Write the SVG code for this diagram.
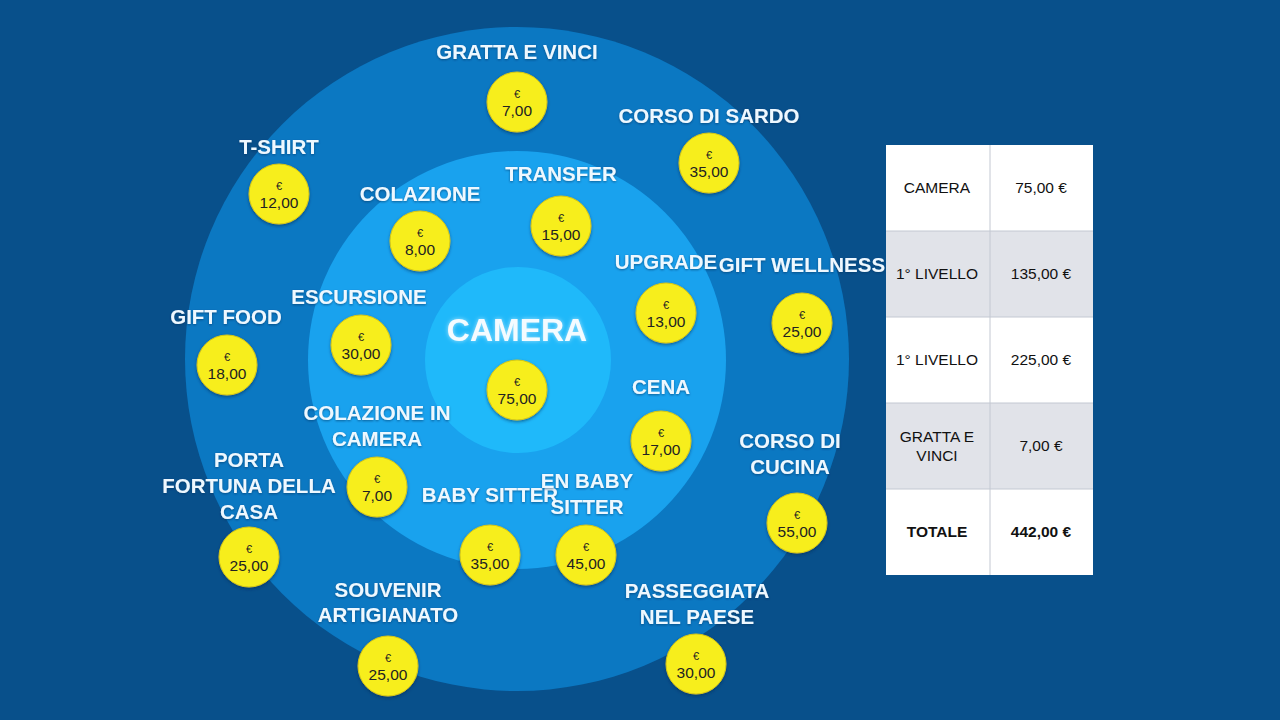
<svg xmlns="http://www.w3.org/2000/svg" width="1280" height="720" viewBox="0 0 1280 720">
<defs>
<filter id="sh" x="-20%" y="-20%" width="140%" height="140%">
<feDropShadow dx="0" dy="1" stdDeviation="1.2" flood-color="#003060" flood-opacity="0.6"/>
</filter>
<filter id="cs" x="-20%" y="-20%" width="140%" height="140%">
<feDropShadow dx="0" dy="1.5" stdDeviation="1.5" flood-color="#00284f" flood-opacity="0.55"/>
</filter>
<filter id="glow" x="-20%" y="-30%" width="140%" height="160%">
<feDropShadow dx="0" dy="0" stdDeviation="2" flood-color="#ffffff" flood-opacity="0.6"/>
</filter>
</defs>
<style>
.lbl{font-family:"Liberation Sans",Arial,sans-serif;font-weight:bold;font-size:20.5px;fill:#eef8ff;text-anchor:middle;filter:url(#sh)}
.coin{fill:#f7ee1c;stroke:#d8c810;stroke-width:1;filter:url(#cs)}
.eu{font-family:"Liberation Sans",Arial,sans-serif;font-size:11px;fill:#222;text-anchor:middle}
.val{font-family:"Liberation Sans",Arial,sans-serif;font-size:15.5px;fill:#222;text-anchor:middle}
.tt{font-family:"Liberation Sans",Arial,sans-serif;font-size:15.5px;fill:#111;text-anchor:middle}
.tb{font-weight:bold}
.grid{stroke:#c3c8d2;stroke-width:1}
</style>
<rect width="1280" height="720" fill="#08508b"/>
<g id="rings">
<circle cx="517" cy="359" r="332" fill="#0b78c2"/>
<circle cx="517" cy="360" r="209" fill="#19a2ee"/>
<circle cx="518" cy="360" r="93" fill="#1fb9fa"/>
</g>
<g id="connectors"></g>
<g id="gratta"><text class="lbl" x="517" y="59">GRATTA E VINCI</text><circle class="coin" cx="517" cy="102" r="30"/><text class="eu" x="517" y="98">€</text><text class="val" x="517" y="116">7,00</text></g>
<g id="sardo"><text class="lbl" x="709" y="123">CORSO DI SARDO</text><circle class="coin" cx="709" cy="163" r="30"/><text class="eu" x="709" y="159">€</text><text class="val" x="709" y="177">35,00</text></g>
<g id="tshirt"><text class="lbl" x="279" y="154">T-SHIRT</text><circle class="coin" cx="279" cy="194" r="30"/><text class="eu" x="279" y="190">€</text><text class="val" x="279" y="208">12,00</text></g>
<g id="colazione"><text class="lbl" x="420" y="201">COLAZIONE</text><circle class="coin" cx="420" cy="241" r="30"/><text class="eu" x="420" y="237">€</text><text class="val" x="420" y="255">8,00</text></g>
<g id="transfer"><text class="lbl" x="561" y="181">TRANSFER</text><circle class="coin" cx="561" cy="226" r="30"/><text class="eu" x="561" y="222">€</text><text class="val" x="561" y="240">15,00</text></g>
<g id="upgrade"><text class="lbl" x="666" y="269">UPGRADE</text><circle class="coin" cx="666" cy="313" r="30"/><text class="eu" x="666" y="309">€</text><text class="val" x="666" y="327">13,00</text></g>
<g id="wellness"><text class="lbl" x="802" y="272">GIFT WELLNESS</text><circle class="coin" cx="802" cy="323" r="30"/><text class="eu" x="802" y="319">€</text><text class="val" x="802" y="337">25,00</text></g>
<g id="escursione"><text class="lbl" x="359" y="304">ESCURSIONE</text><circle class="coin" cx="361" cy="345" r="30"/><text class="eu" x="361" y="341">€</text><text class="val" x="361" y="359">30,00</text></g>
<g id="giftfood"><text class="lbl" x="226" y="324">GIFT FOOD</text><circle class="coin" cx="227" cy="365" r="30"/><text class="eu" x="227" y="361">€</text><text class="val" x="227" y="379">18,00</text></g>
<g id="camera"><text x="517" y="341" text-anchor="middle" font-family="'Liberation Sans',Arial,sans-serif" font-weight="bold" font-size="32" fill="#f4fbff" filter="url(#glow)">CAMERA</text><circle class="coin" cx="517" cy="390" r="30"/><text class="eu" x="517" y="386">€</text><text class="val" x="517" y="404">75,00</text></g>
<g id="cena"><text class="lbl" x="661" y="394">CENA</text><circle class="coin" cx="661" cy="441" r="30"/><text class="eu" x="661" y="437">€</text><text class="val" x="661" y="455">17,00</text></g>
<g id="colazionecamera"><text class="lbl" x="377" y="420">COLAZIONE IN</text><text class="lbl" x="377" y="446">CAMERA</text><circle class="coin" cx="377" cy="487" r="30"/><text class="eu" x="377" y="483">€</text><text class="val" x="377" y="501">7,00</text></g>
<g id="cucina"><text class="lbl" x="790" y="448">CORSO DI</text><text class="lbl" x="790" y="474">CUCINA</text><circle class="coin" cx="797" cy="523" r="30"/><text class="eu" x="797" y="519">€</text><text class="val" x="797" y="537">55,00</text></g>
<g id="porta"><text class="lbl" x="249" y="467">PORTA</text><text class="lbl" x="249" y="493">FORTUNA DELLA</text><text class="lbl" x="249" y="519">CASA</text><circle class="coin" cx="249" cy="557" r="30"/><text class="eu" x="249" y="553">€</text><text class="val" x="249" y="571">25,00</text></g>
<g id="babysitter"><text class="lbl" x="490" y="502">BABY SITTER</text><circle class="coin" cx="490" cy="555" r="30"/><text class="eu" x="490" y="551">€</text><text class="val" x="490" y="569">35,00</text></g>
<g id="enbabysitter"><text class="lbl" x="587" y="488">EN BABY</text><text class="lbl" x="587" y="514">SITTER</text><circle class="coin" cx="586" cy="555" r="30"/><text class="eu" x="586" y="551">€</text><text class="val" x="586" y="569">45,00</text></g>
<g id="souvenir"><text class="lbl" x="388" y="597">SOUVENIR</text><text class="lbl" x="388" y="622">ARTIGIANATO</text><circle class="coin" cx="388" cy="666" r="30"/><text class="eu" x="388" y="662">€</text><text class="val" x="388" y="680">25,00</text></g>
<g id="passeggiata"><text class="lbl" x="697" y="598">PASSEGGIATA</text><text class="lbl" x="697" y="624">NEL PAESE</text><circle class="coin" cx="696" cy="664" r="30"/><text class="eu" x="696" y="660">€</text><text class="val" x="696" y="678">30,00</text></g>
<g id="table">
<rect x="886" y="145" width="207" height="430" fill="#ffffff"/>
<rect x="886" y="231" width="207" height="86" fill="#e1e3e9"/>
<rect x="886" y="403" width="207" height="86" fill="#e1e3e9"/>
<line class="grid" x1="886" y1="231" x2="1093" y2="231"/>
<line class="grid" x1="886" y1="317" x2="1093" y2="317"/>
<line class="grid" x1="886" y1="403" x2="1093" y2="403"/>
<line class="grid" x1="886" y1="489" x2="1093" y2="489"/>
<line class="grid" x1="990" y1="145" x2="990" y2="575"/>
<text class="tt" x="937" y="193">CAMERA</text><text class="tt" x="1041" y="193">75,00 €</text>
<text class="tt" x="937" y="279">1° LIVELLO</text><text class="tt" x="1041" y="279">135,00 €</text>
<text class="tt" x="937" y="365">1° LIVELLO</text><text class="tt" x="1041" y="365">225,00 €</text>
<text class="tt" x="937" y="442">GRATTA E</text><text class="tt" x="937" y="461">VINCI</text><text class="tt" x="1041" y="451">7,00 €</text>
<text class="tt tb" x="937" y="537">TOTALE</text><text class="tt tb" x="1041" y="537">442,00 €</text>
</g>
</svg>
